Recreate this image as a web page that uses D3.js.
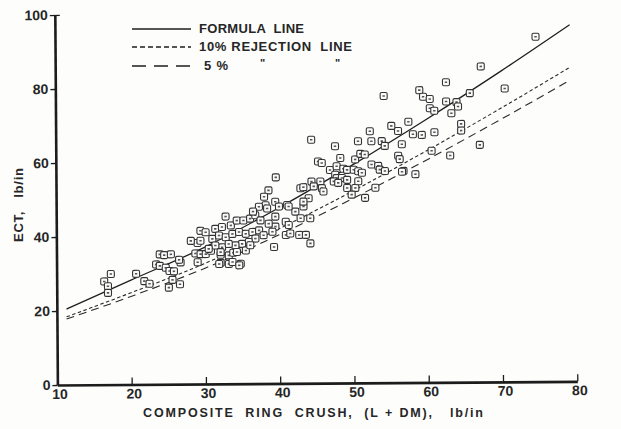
<!DOCTYPE html>
<html>
<head>
<meta charset="utf-8">
<script src="https://cdn.jsdelivr.net/npm/d3@7"></script>
<style>
  body { margin: 0; background: #fdfdfc; }
  svg { display: block; }
  text { font-family: "Liberation Sans", Arial, sans-serif; font-weight: bold; fill: #262626; white-space: pre; }
</style>
</head>
<body>
<svg id="chart" width="621" height="429"></svg>
<script>
// composite ring crush (L + DM), lb/in  -- one entry per test
var ringCrush = [
  17.3, 16.4, 16.9, 16.9, 20.7, 21.8, 22.5, 23.9, 24.5, 25.4,
  23.4, 23.9, 24.7, 25.2, 25.8, 25.6, 25.1, 26.6, 26.7, 26.5,
  29.0, 28.7, 29.4, 30.1, 30.8, 29.0, 28.1, 29.4, 32.1, 33.2,
  33.2, 32.1, 32.3, 39.6, 38.6, 42.9, 43.3, 39.5, 38.2, 38.4,
  40.0, 41.1, 42.2, 43.3, 40.9, 39.5, 32.8, 29.4, 30.1, 31.4,
  32.3, 33.5, 34.3, 35.2, 36.1, 36.8, 37.5, 31.0, 31.9, 32.8,
  33.7, 34.6, 35.5, 36.4, 37.3, 37.9, 36.8, 35.9, 35.0, 34.1,
  33.2, 31.4, 30.5, 32.1, 33.8, 34.3, 35.5, 36.1, 33.7, 34.8,
  31.9, 39.3, 40.9, 41.5, 42.7, 41.3, 39.5, 38.6, 39.1, 34.6,
  37.3, 36.5, 38.0, 44.4, 47.6, 50.7, 52.3, 52.5, 53.9, 54.3,
  56.1, 56.6, 48.3, 50.3, 51.0, 51.6, 45.3, 45.8, 46.9, 47.8,
  48.7, 49.2, 50.1, 50.7, 51.2, 52.5, 53.4, 53.6, 54.3, 56.1,
  56.3, 56.8, 58.4, 47.6, 47.8, 48.5, 49.2, 47.4, 48.0, 49.2,
  50.3, 50.7, 44.4, 45.6, 44.7, 45.8, 46.0, 44.0, 43.3, 41.3,
  53.0, 51.6, 49.8, 42.9, 44.2, 43.6, 44.2, 74.7, 67.3, 70.5,
  62.6, 59.0, 59.5, 60.4, 65.8, 62.6, 64.0, 64.2, 60.4, 61.0,
  63.3, 54.2, 64.6, 64.6, 57.5, 55.2, 58.1, 59.3, 61.0, 60.6,
  63.1, 67.1, 56.6
];
// ECT, lb/in
var ect = [
  29.9, 27.9, 26.6, 24.8, 29.9, 27.9, 27.2, 35.1, 34.9, 35.1,
  32.4, 32.0, 31.5, 30.6, 30.5, 28.2, 26.1, 27.0, 32.9, 33.6,
  32.9, 35.3, 35.1, 35.1, 36.0, 38.1, 38.7, 38.7, 32.7, 32.4,
  34.7, 34.9, 36.9, 55.7, 52.2, 52.7, 53.0, 49.1, 48.2, 47.3,
  47.8, 48.2, 46.4, 47.8, 43.7, 45.1, 45.2, 41.4, 41.0, 41.9,
  42.4, 42.8, 44.1, 44.1, 44.6, 45.5, 44.1, 39.2, 40.1, 39.6,
  40.5, 41.0, 40.5, 41.0, 41.4, 40.1, 39.2, 38.3, 37.8, 37.4,
  37.8, 37.4, 36.5, 35.6, 35.4, 35.6, 36.0, 37.4, 32.9, 32.4,
  32.4, 36.9, 40.1, 40.5, 40.1, 42.8, 42.4, 43.2, 41.0, 32.0,
  47.8, 46.5, 50.5, 65.8, 64.0, 65.3, 68.0, 65.3, 65.3, 64.0,
  68.0, 64.4, 60.8, 60.4, 61.9, 61.7, 59.9, 59.5, 57.6, 58.6,
  57.9, 57.6, 57.6, 57.2, 56.8, 59.0, 58.6, 57.6, 57.2, 61.3,
  60.4, 57.2, 56.3, 56.3, 55.4, 55.4, 54.9, 54.5, 54.1, 52.7,
  52.7, 54.5, 54.5, 54.5, 53.2, 52.7, 51.8, 50.0, 49.1, 47.8,
  52.7, 50.0, 50.9, 44.6, 44.6, 40.1, 37.8, 93.2, 85.3, 79.3,
  81.1, 79.0, 77.2, 76.6, 78.1, 75.9, 75.7, 74.5, 74.1, 73.4,
  72.7, 77.5, 69.8, 68.0, 70.5, 69.4, 67.1, 66.9, 67.6, 62.6,
  61.3, 64.1, 57.0
];

// the three lines at these ring crush values
var lineX     = [11.3, 20, 30, 40, 50, 60, 70, 79.3];
var formulaY  = [20.5, 28.2, 37.0, 47.5, 59.0, 71.2, 84.0, 96.4];
var reject10Y = [18.4, 24.8, 32.6, 41.8, 51.9, 62.7, 74.0, 84.9];
var reject5Y  = [17.8, 23.8, 31.3, 40.2, 49.9, 60.2, 71.0, 81.4];

var xTicks = [10, 20, 30, 40, 50, 60, 70, 80];
var yTicks = [0, 20, 40, 60, 80, 100];

var svg = d3.select("#chart");

var x = d3.scaleLinear().domain([10, 80]).range([57.4, 577.3]);
var y = d3.scaleLinear().domain([0, 100]).range([385, 15]);

// the scan is a touch crooked, so the plot is turned a little
var plot = svg.append("g").attr("transform", "rotate(-0.4, 57, 385)");

/*************************** axes ***************************/

var xAxis = plot.append("g").attr("transform", "translate(0," + y(0) + ")")
  .call(d3.axisBottom(x).tickValues(xTicks).tickSizeInner(-7).tickSizeOuter(0).tickPadding(4));
var yAxis = plot.append("g").attr("transform", "translate(" + x(10) + ",0)")
  .call(d3.axisLeft(y).tickValues(yTicks).tickSizeInner(5).tickSizeOuter(0).tickPadding(2));

[xAxis, yAxis].forEach(function(a){
  a.select(".domain").attr("stroke", "#1c1c1c").attr("stroke-width", 2.6);
  a.selectAll(".tick line").attr("stroke", "#1c1c1c").attr("stroke-width", 1.3);
  a.selectAll(".tick text").style("font-size", "14px").attr("fill", "#262626");
});
xAxis.selectAll(".tick").filter(function(d){ return d == 10; }).select("line").remove();
xAxis.selectAll(".tick text").attr("dx", 2);
// little hook at the top of the y axis
yAxis.selectAll(".tick").filter(function(d){ return d == 100; }).select("line").attr("x1", 5);

/*************************** lines ***************************/

function lineOf(ys){
  return d3.line().curve(d3.curveMonotoneX)
    .x(function(d, i){ return x(lineX[i]); })
    .y(function(d){ return y(d); })(ys);
}

plot.append("path").attr("d", lineOf(formulaY))
  .attr("fill", "none").attr("stroke", "#1e1e1e").attr("stroke-width", 1.3);
plot.append("path").attr("d", lineOf(reject10Y))
  .attr("fill", "none").attr("stroke", "#2a2a2a").attr("stroke-width", 1.1).attr("stroke-dasharray", "3.5,2.5");
plot.append("path").attr("d", lineOf(reject5Y))
  .attr("fill", "none").attr("stroke", "#2a2a2a").attr("stroke-width", 1.1).attr("stroke-dasharray", "8,5");

/*************************** points ***************************/

var pts = plot.append("g").selectAll("g").data(ringCrush).enter().append("g")
  .attr("transform", function(d, i){ return "translate(" + x(d) + "," + y(ect[i]) + ")"; });
pts.append("rect").attr("x", -3.5).attr("y", -3.5).attr("width", 7).attr("height", 7).attr("rx", 1.5)
  .attr("fill", "#fbfbfb").attr("stroke", "#333").attr("stroke-width", 1.1);
pts.append("rect").attr("x", -1.2).attr("y", -0.8).attr("width", 2.4).attr("height", 1.6).attr("fill", "#555");

/*************************** titles ***************************/

svg.append("text").attr("x", 143).attr("y", 417).attr("textLength", 340).attr("lengthAdjust", "spacing")
  .style("font-size", "12.5px").text("COMPOSITE  RING  CRUSH,  (L + DM),   lb/in");

svg.append("text").attr("transform", "translate(23,242) rotate(-90)").attr("textLength", 74).attr("lengthAdjust", "spacing")
  .style("font-size", "13px").text("ECT,   lb/in");

/*************************** legend ***************************/

var legend = svg.append("g");
var legendRows = [
  { y: 29, dash: null, label: "FORMULA  LINE", tx: 199, len: 105 },
  { y: 47, dash: "5,3", label: "10% REJECTION  LINE", tx: 199, len: 153 },
  { y: 66, dash: "14,8", label: "5%", tx: 204, len: 24 }
];
legendRows.forEach(function(r){
  legend.append("line").attr("x1", 132).attr("x2", 191).attr("y1", r.y).attr("y2", r.y)
    .attr("stroke", "#1e1e1e").attr("stroke-width", 1.4).attr("stroke-dasharray", r.dash);
  legend.append("text").attr("x", r.tx).attr("y", r.y + 4).attr("textLength", r.len).attr("lengthAdjust", "spacing")
    .style("font-size", "13px").text(r.label);
});
legend.append("text").attr("x", 260).attr("y", 67).style("font-size", "11px").text("\"");
legend.append("text").attr("x", 335).attr("y", 67).style("font-size", "11px").text("\"");
</script>
</body>
</html>
